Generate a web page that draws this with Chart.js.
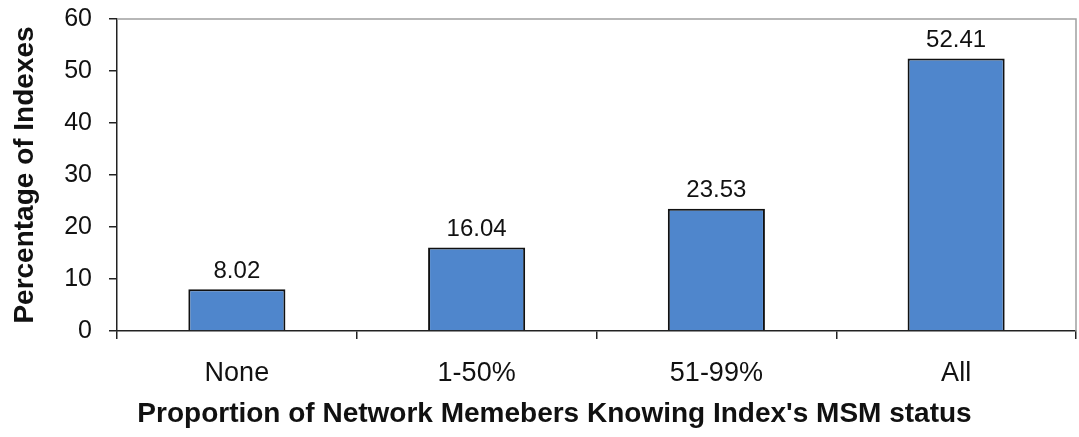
<!DOCTYPE html>
<html>
<head>
<meta charset="utf-8">
<script src="https://cdn.jsdelivr.net/npm/chart.js@4/dist/chart.umd.min.js"></script>
<style>
  html, body { margin: 0; padding: 0; background: #fff; }
  #wrap { width: 1079px; height: 437px; }
</style>
</head>
<body>
<div id="wrap"><canvas id="myChart" width="1079" height="437"></canvas></div>
<script>
// chart data
var categories = ["None", "1-50%", "51-99%", "All"];
var percentages = [8.02, 16.04, 23.53, 52.41];
var yTicks = [0, 10, 20, 30, 40, 50, 60];
var xTitle = "Proportion of Network Memebers Knowing Index's MSM status";

var FONT = "'Liberation Sans', Arial, sans-serif";

// labels above bars, x title, light frame on top/right of the plot
var barLabels = {
  id: "barLabels",
  afterDatasetsDraw: function (chart) {
    var ctx = chart.ctx;
    var meta = chart.getDatasetMeta(0);
    ctx.save();
    ctx.font = "24px " + FONT;
    ctx.fillStyle = "#111";
    ctx.textAlign = "center";
    ctx.textBaseline = "bottom";
    meta.data.forEach(function (bar, i) {
      ctx.fillText(percentages[i].toFixed(2), bar.x, bar.y - 6);
    });
    ctx.restore();
  },
  afterDraw: function (chart) {
    var a = chart.chartArea;
    var ctx = chart.ctx;
    ctx.save();
    ctx.strokeStyle = "#a0a0a0";
    ctx.lineWidth = 1.5;
    ctx.beginPath();
    ctx.moveTo(a.left, a.top);
    ctx.lineTo(a.right, a.top);
    ctx.lineTo(a.right, a.bottom);
    ctx.stroke();

    // axis title sits a bit left of the plot centre in the original
    ctx.font = "bold 28px " + FONT;
    ctx.fillStyle = "#111";
    ctx.textAlign = "center";
    ctx.textBaseline = "middle";
    ctx.fillText(xTitle, chart.width / 2 + 15, 414);
    ctx.restore();
  }
};

var ctx = document.getElementById("myChart").getContext("2d");
var myChart = new Chart(ctx, {
  type: "bar",
  data: {
    labels: categories,
    datasets: [
      {
        data: percentages,
        backgroundColor: "#4f86cc",
        borderColor: "#111",
        borderWidth: 2,
        categoryPercentage: 1.0,
        barPercentage: 0.405,
      },
    ],
  },
  options: {
    responsive: false,
    animation: false,
    layout: { padding: { top: 19, right: 3, left: 0, bottom: 4 } },
    plugins: {
      legend: { display: false },
      tooltip: { enabled: false },
    },
    scales: {
      x: {
        afterFit: function (scale) { scale.height = 437 - 331 - 4; },
        grid: {
          offset: true,
          drawOnChartArea: false,
          drawTicks: true,
          tickLength: 8,
          color: "#222",
          lineWidth: 1.5,
        },
        border: { color: "#222", width: 1.5 },
        ticks: {
          color: "#111",
          padding: 18,
          font: { family: FONT, size: 27 },
        },
      },
      y: {
        min: 0,
        max: 60,
        afterFit: function (scale) {
          scale.width = 117;
          scale.paddingTop = 0;
          scale.paddingBottom = 0;
        },
        afterBuildTicks: function (scale) {
          scale.ticks = yTicks.map(function (v) { return { value: v }; });
        },
        grid: {
          drawOnChartArea: false,
          drawTicks: true,
          tickLength: 8,
          color: "#222",
          lineWidth: 1.5,
        },
        border: { color: "#222", width: 1.5 },
        ticks: {
          color: "#111",
          padding: 17,
          font: { family: FONT, size: 25 },
        },
        title: {
          display: true,
          text: "Percentage of Indexes",
          color: "#111",
          padding: { top: 8, bottom: 0 },
          font: { family: FONT, size: 28, weight: "bold" },
        },
      },
    },
  },
  plugins: [barLabels],
});
</script>
</body>
</html>
